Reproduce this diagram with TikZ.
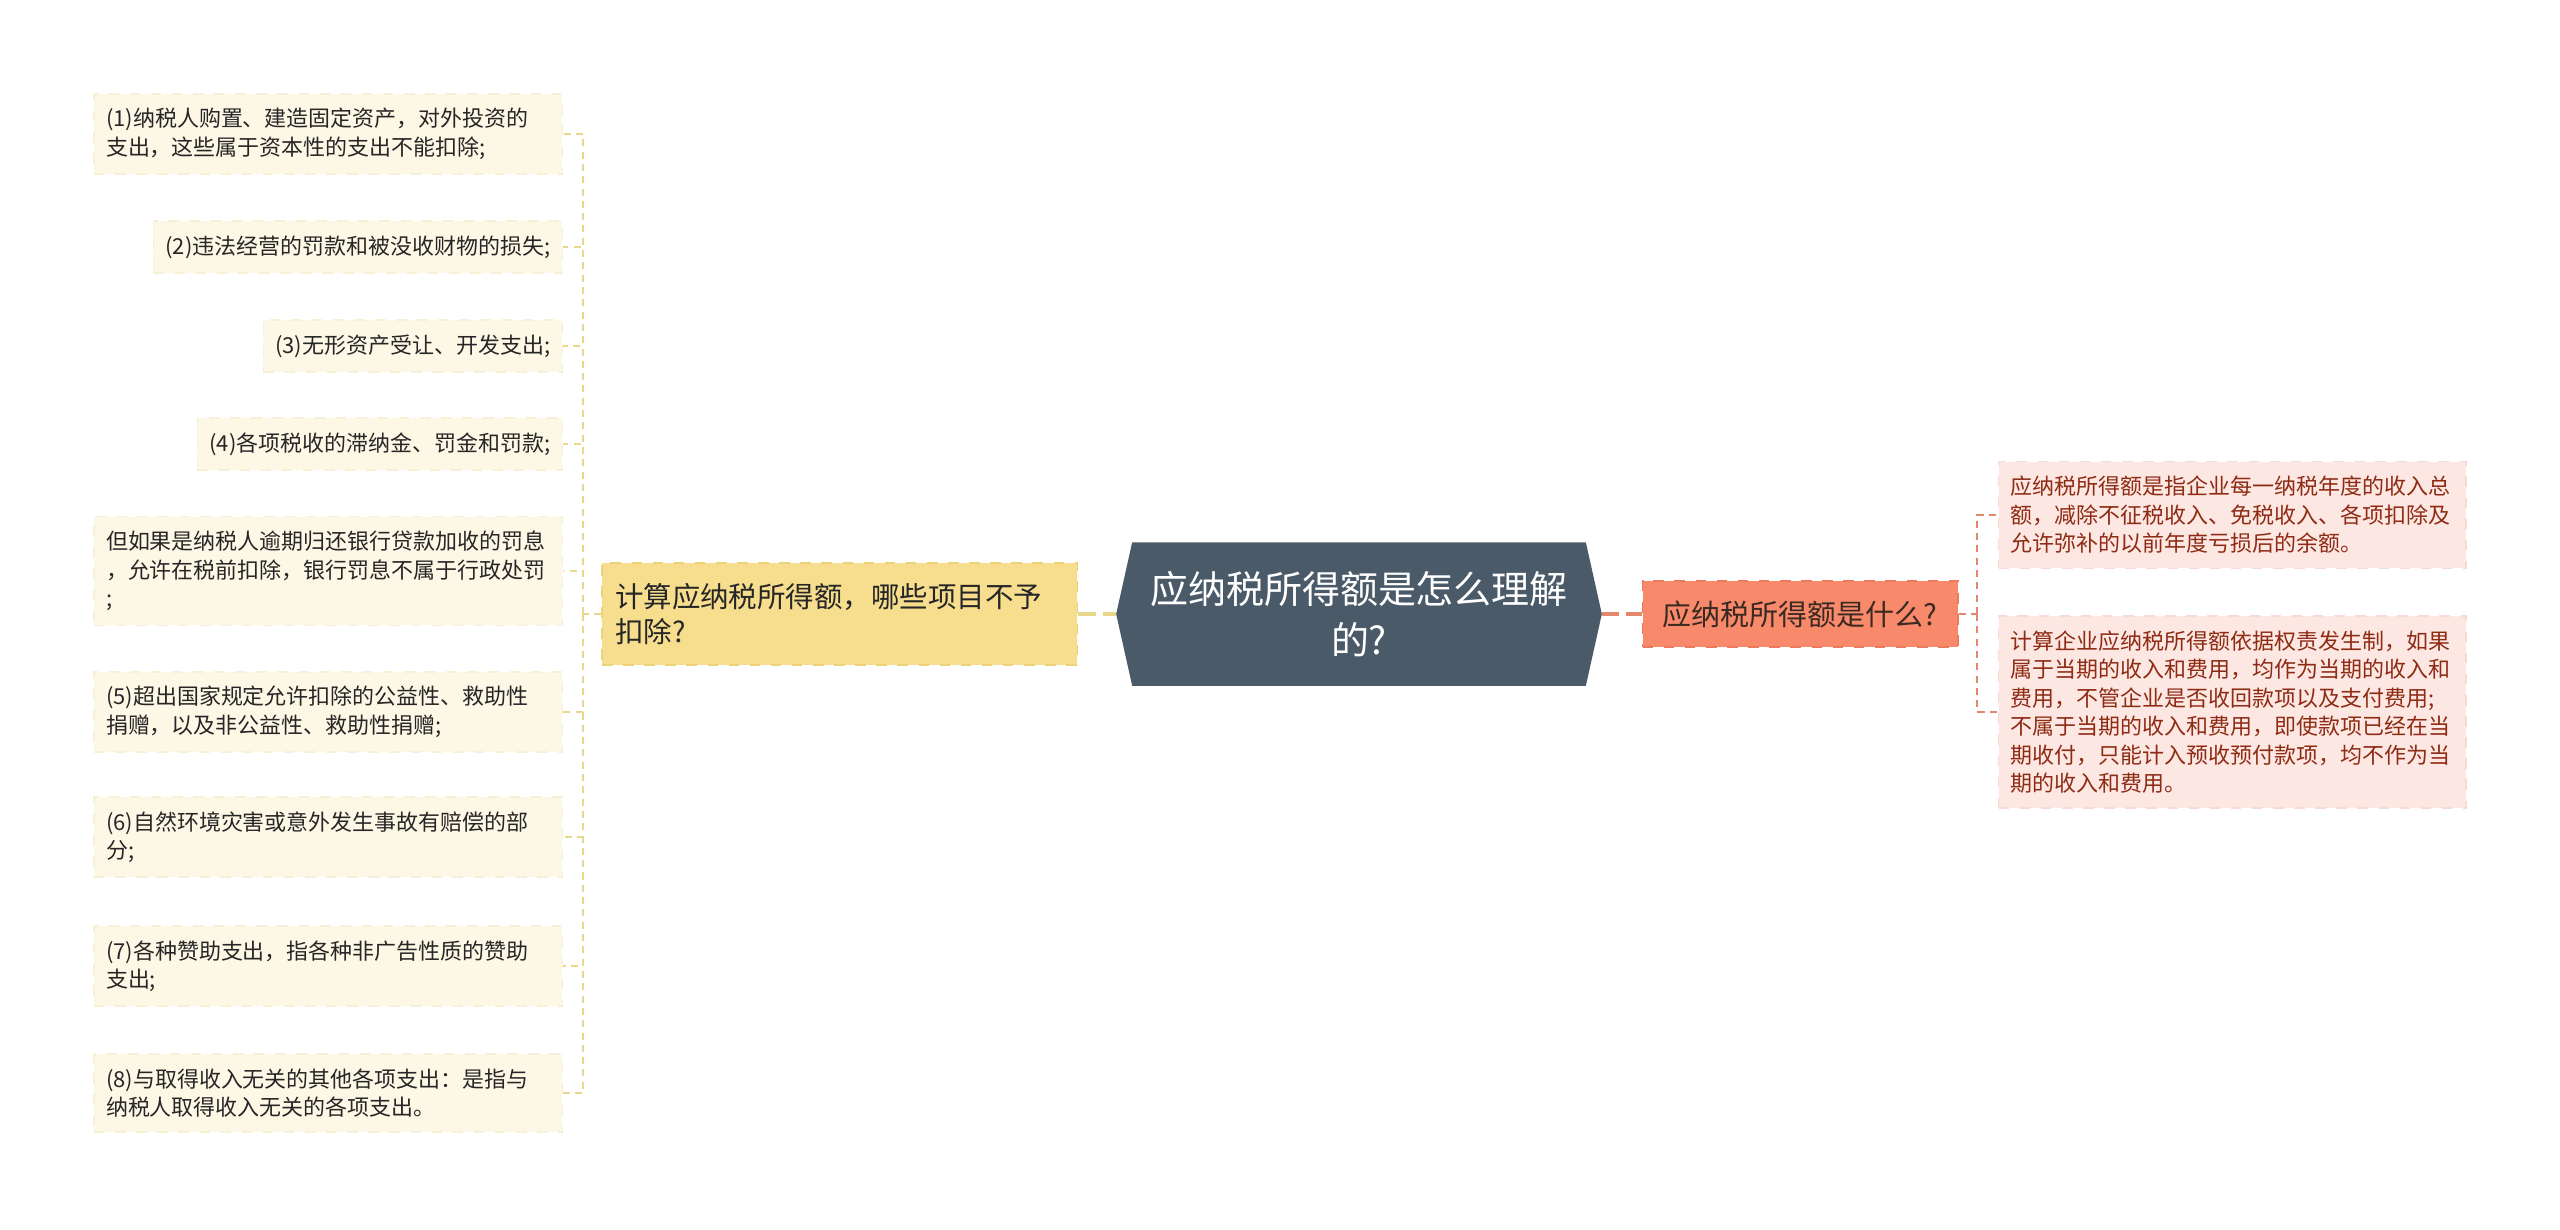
\documentclass[tikz,border=0pt]{standalone}
\usepackage{fontspec}
\setmainfont{Noto Sans CJK SC}
\usepackage{xcolor}
\usepackage{tikz}
\usetikzlibrary{calc,backgrounds}

\definecolor{leafbg}{HTML}{FDF8E6}
\definecolor{leafedge}{HTML}{F8F0D6}
\definecolor{lline}{HTML}{E9D78C}
\definecolor{yelbg}{HTML}{F7DE8F}
\definecolor{yeledge}{HTML}{EDD27C}
\definecolor{rootbg}{HTML}{4A5A69}
\definecolor{orgbg}{HTML}{F9896B}
\definecolor{orgedge}{HTML}{EC7A5F}
\definecolor{orgtext}{HTML}{3A2A22}
\definecolor{rline}{HTML}{E4876F}
\definecolor{redbg}{HTML}{FDE7E2}
\definecolor{rededge}{HTML}{F9DAD3}
\definecolor{redtext}{HTML}{8E2B14}

\begin{document}
\begin{tikzpicture}[x=0.01cm, y=-0.01cm,
    leafl/.style={rectangle, draw=leafedge, dashed, fill=leafbg, text=black!85, inner xsep=0.12cm, inner ysep=0.145cm, anchor=east, font=\fontsize{6.25pt}{8.1pt}\selectfont},
    leafr/.style={rectangle, draw=rededge, dashed, fill=redbg, text=redtext, inner xsep=0.12cm, inner ysep=0.145cm, anchor=west, text width=4.43cm, align=left, font=\fontsize{6.25pt}{8.1pt}\selectfont},
    wrap/.style={text width=4.44cm, align=left},
    ltie/.style={draw=lline, line width=0.6pt, dash pattern=on 2pt off 1.5pt},
    rtie/.style={draw=rline, line width=0.6pt, dash pattern=on 2pt off 1.5pt}]
    \useasboundingbox (0,0) rectangle (2560,1229);

    % centre and the two branches
    \node[minimum width=4.52cm, minimum height=1.42cm, text=white, align=center, font=\fontsize{10.8pt}{14.5pt}\selectfont] (root) at (1359,614) {应纳税所得额是怎么理解\\的?};
    \node[rectangle, draw=yeledge, dashed, fill=yelbg, text=black!85, anchor=east, text width=4.49cm, align=left, inner xsep=0.13cm, inner ysep=0.2cm, font=\fontsize{8.1pt}{10.2pt}\selectfont] (calc) at (1078,614) {计算应纳税所得额，哪些项目不予\\扣除?};
    \node[rectangle, draw=orgedge, dashed, fill=orgbg, text=orgtext, anchor=west, minimum width=3.15cm, minimum height=0.66cm, inner sep=0pt, font=\fontsize{8.25pt}{10pt}\selectfont] (what) at (1642,614) {应纳税所得额是什么?};

    % left leaves
    \node[leafl, wrap] (l1) at (563,134) {(1)纳税人购置、建造固定资产，对外投资的\\支出，这些属于资本性的支出不能扣除;};
    \node[leafl] (l2) at (563,247) {(2)违法经营的罚款和被没收财物的损失;};
    \node[leafl] (l3) at (563,346) {(3)无形资产受让、开发支出;};
    \node[leafl] (l4) at (563,444) {(4)各项税收的滞纳金、罚金和罚款;};
    \node[leafl, wrap] (l5) at (563,571) {但如果是纳税人逾期归还银行贷款加收的罚息\\，允许在税前扣除，银行罚息不属于行政处罚\\;};
    \node[leafl, wrap] (l6) at (563,712) {(5)超出国家规定允许扣除的公益性、救助性\\捐赠，以及非公益性、救助性捐赠;};
    \node[leafl, wrap] (l7) at (563,837) {(6)自然环境灾害或意外发生事故有赔偿的部\\分;};
    \node[leafl, wrap] (l8) at (563,966) {(7)各种赞助支出，指各种非广告性质的赞助\\支出;};
    \node[leafl, wrap] (l9) at (563,1093) {(8)与取得收入无关的其他各项支出：是指与\\纳税人取得收入无关的各项支出。};

    % right leaves
    \node[leafr] (r1) at (1998,515) {应纳税所得额是指企业每一纳税年度的收入总\\额，减除不征税收入、免税收入、各项扣除及\\允许弥补的以前年度亏损后的余额。};
    \node[leafr] (r2) at (1998,712) {计算企业应纳税所得额依据权责发生制，如果\\属于当期的收入和费用，均作为当期的收入和\\费用，不管企业是否收回款项以及支付费用;\\不属于当期的收入和费用，即使款项已经在当\\期收付，只能计入预收预付款项，均不作为当\\期的收入和费用。};

    \coordinate (rootW) at ($(root.west)+(-16,0)$);
    \coordinate (rootE) at ($(root.east)+(16,0)$);
    \coordinate (lj) at (583,614);
    \coordinate (rj) at (1977,614);

    \draw[draw=lline, line width=1.1pt, dash pattern=on 5pt off 2pt] (calc.east) -- (rootW);
    \draw[draw=rline, line width=1.1pt, dash pattern=on 5pt off 2pt] (rootE) -- (what.west);

    \draw[ltie] (calc.west) -- (lj);
    \draw[ltie] (lj) |- (l1.east);
    \draw[ltie] (lj) |- (l2.east);
    \draw[ltie] (lj) |- (l3.east);
    \draw[ltie] (lj) |- (l4.east);
    \draw[ltie] (lj) |- (l5.east);
    \draw[ltie] (lj) |- (l6.east);
    \draw[ltie] (lj) |- (l7.east);
    \draw[ltie] (lj) |- (l8.east);
    \draw[ltie] (lj) |- (l9.east);

    \draw[rtie] (what.east) -- (rj);
    \draw[rtie] (rj) |- (r1.west);
    \draw[rtie] (rj) |- (r2.west);

    \begin{pgfonlayer}{background}
        \fill[white] (0,0) rectangle (2560,1229);
        \fill[rootbg] (root.north west) -- (root.north east) -- (rootE) -- (root.south east) -- (root.south west) -- (rootW) -- cycle;
    \end{pgfonlayer}
\end{tikzpicture}
\end{document}
